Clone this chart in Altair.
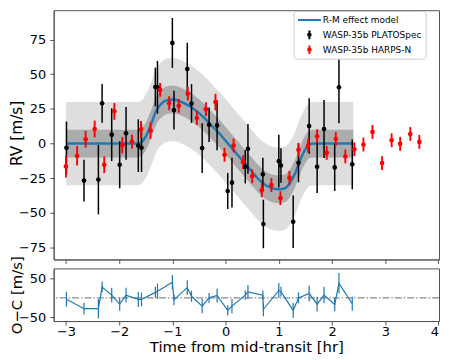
import altair as alt
import pandas as pd

# ---------------- data ----------------
# WASP-35b PLATOSpec (black)
plato_t = [-2.99, -2.66, -2.39, -2.32, -2.14, -1.99, -1.87, -1.64, -1.58, -1.32, -1.28,
           -1.00, -0.97, -0.72, -0.64, -0.44, -0.31, -0.16, 0.04, 0.12, 0.37, 0.42,
           0.70, 0.71, 1.00, 1.04, 1.27, 1.37, 1.57, 1.72, 1.85, 2.05, 2.13, 2.38]
plato_rv = [-3.1, -26.7, -26.0, 29.0, 6.4, -15.3, 7.4, -1.5, -3.1, 40.8, 40.6,
            72.6, 24.1, 53.7, 28.9, -3.3, 13.6, 13.1, -34.2, -28.2, -16.7, -3.8,
            -22.2, -58.0, -12.7, -15.8, -56.4, -13.9, 12.7, -16.7, 10.5, -17.2, 40.6, -15.0]
plato_err = [19, 15, 25, 14, 19, 17, 19, 19, 17.5, 14, 19,
             18, 14, 19, 14, 18, 12.5, 18, 13, 18, 12, 18,
             12, 17.5, 19, 12.5, 19, 14, 20, 19, 21, 17, 26, 18]

# WASP-35b HARPS-N (red)
harps_t = [-3.00, -2.79, -2.63, -2.46, -2.28, -2.09, -1.94, -1.76, -1.59, -1.41, -1.23,
           -1.06, -0.88, -0.71, -0.54, -0.37, -0.19, -0.02, 0.15, 0.33, 0.50, 0.68,
           0.86, 1.03, 1.20, 1.37, 1.55, 1.72, 1.90, 2.07, 2.25, 2.42, 2.59, 2.76,
           2.94, 3.12, 3.28, 3.47, 3.64]
harps_rv = [-16.5, -8.8, 3.1, 10.5, -15.3, 23.2, -1.2, 1.4, 10.3, 9.3, 38.7,
            29.1, 27.2, 36.1, 18.4, 24.8, 29.9, -8.1, -1.4, -13.4, -23.6, -33.7,
            -29.9, -39.4, -24.8, -4.5, -1.5, 5.3, -6.7, 3.3, -9.3, -4.1, -0.7, 8.4,
            -14.1, 2.4, -0.2, 6.9, 1.2]
harps_err = [8, 7, 6, 6, 6, 6, 6, 5, 6, 6, 5,
             5, 5, 5, 5, 5, 6, 5, 5, 5, 5, 5,
             5, 5, 5, 5, 5, 5, 5, 5, 5, 5, 5, 5,
             5, 5, 5, 5, 5]

# R-M effect model curve (read at sample times)
model_t = [-3.0, -1.65, -1.58, -1.5, -1.4, -1.3, -1.2, -1.1, -1.0, -0.9, -0.8, -0.7,
           -0.6, -0.5, -0.4, -0.3, -0.2, -0.1, 0.0, 0.1, 0.2, 0.3, 0.4, 0.5, 0.6,
           0.7, 0.8, 0.9, 1.0, 1.1, 1.2, 1.3, 1.4, 1.5, 1.58, 1.65, 2.4]
model_rv = [0, 0, 1, 5, 14, 24, 29, 31.3, 31.8, 31.2, 29.5, 27.5,
            25, 22, 18.5, 14.5, 10.5, 6.5, 2, -2.5, -7, -11.5, -16, -20.5, -25,
            -28.5, -31, -32.5, -33, -32.5, -29, -22, -12, -4, -0.5, 0, 0]
band_inner = 10   # half-width of dark band [m/s]
band_outer = 30   # half-width of light band [m/s]

# O-C residuals of PLATOSpec
oc_rv = [-3.5, -27.6, -27.6, 27.6, 7, -16, 7, -4, -4, 14, 17,
         40, -5, 26, 4, -21, 0, 6, -32, -21, 7, 15,
         7, -29, 19, 16, -32, 0, 11, -16, 7, -17, 37, -15]
zero_line = [0]

x_ticks = [-3, -2, -1, 0, 1, 2, 3, 4]
rv_ticks = [-75, -50, -25, 0, 25, 50, 75]
oc_ticks = [-50, 0, 50]

series_names = ["R-M effect model", "WASP-35b PLATOSpec", "WASP-35b HARPS-N"]
series_stroke = ["#1f77b4", "black", "red"]
series_fill = ["transparent", "black", "red"]

# ---------------- tables ----------------
model_df = pd.DataFrame({"t": model_t, "rv": model_rv})
model_df["lo1"] = model_df["rv"] - band_inner
model_df["hi1"] = model_df["rv"] + band_inner
model_df["lo2"] = model_df["rv"] - band_outer
model_df["hi2"] = model_df["rv"] + band_outer

plato_df = pd.DataFrame({"t": plato_t, "rv": plato_rv, "err": plato_err})
plato_df["lo"] = plato_df["rv"] - plato_df["err"]
plato_df["hi"] = plato_df["rv"] + plato_df["err"]
plato_df["series"] = series_names[1]

harps_df = pd.DataFrame({"t": harps_t, "rv": harps_rv, "err": harps_err})
harps_df["lo"] = harps_df["rv"] - harps_df["err"]
harps_df["hi"] = harps_df["rv"] + harps_df["err"]
harps_df["series"] = series_names[2]

points_df = pd.concat([plato_df, harps_df], ignore_index=True)
legend_df = pd.DataFrame({"series": series_names})

oc_df = pd.DataFrame({"t": plato_t, "oc": oc_rv, "err": plato_err})
oc_df["lo"] = oc_df["oc"] - oc_df["err"]
oc_df["hi"] = oc_df["oc"] + oc_df["err"]
oc_df["i"] = range(len(oc_df))

zero_df = pd.DataFrame({"z": zero_line})

# ---------------- scales / axes ----------------
FONT = "DejaVu Sans"
W = 388
H_TOP = 251
H_BOT = 53
xscale = alt.Scale(domain=[-3.23, 4.01], nice=False, zero=False)
x_top = alt.X("t:Q", scale=xscale,
              axis=alt.Axis(values=x_ticks, labels=False, title=None, grid=False))
x_bot_axis = alt.Axis(values=x_ticks, title="Time from mid-transit [hr]", grid=False,
                      format="d", labelFontSize=13, labelPadding=0.5, labelOverlap=False,
                      titleFontSize=15, titlePadding=1.5, titleFontWeight="normal")

y_top_scale = alt.Scale(domain=[-83.6, 96.2], nice=False, zero=False)
y_top_axis = alt.Axis(values=rv_ticks, title="RV [m/s]", grid=False, labelOverlap=False,
                      minExtent=25, maxExtent=25, titlePadding=4.2,
                      titleFontSize=15.5, titleY=123.5, titleFontWeight="normal")

# legend symbols: a line for the model, a dot with an error bar for the data
pt_path = ("M-0.11,0A0.11,0.11 0 1,1 0.11,0A0.11,0.11 0 1,1 -0.11,0Z "
           "M0,-0.38L0,0.38")
series_shape = ["M-1,0L1,0", pt_path, pt_path]
legend = alt.Legend(
    title=None, orient="none", legendX=241.5, legendY=0.8,
    fillColor="white", strokeColor="#cccccc", cornerRadius=3, padding=3.5,
    labelFont=FONT, labelFontSize=9, labelColor="black", labelOffset=1,
    symbolSize=529, symbolStrokeWidth=2.0, symbolOpacity=1,
    clipHeight=11, rowPadding=4,
)
dom = dict(domain=series_names)

base_model = alt.Chart(model_df)
light = base_model.mark_area(color="#dedede", opacity=1, interpolate="monotone").encode(
    x=x_top, y=alt.Y("lo2:Q", scale=y_top_scale, axis=y_top_axis), y2="hi2:Q")
dark = base_model.mark_area(color="#acacac", opacity=1, interpolate="monotone").encode(
    x="t:Q", y="lo1:Q", y2="hi1:Q")
line = base_model.mark_line(color="#1f77b4", strokeWidth=2.4, interpolate="monotone").encode(
    x="t:Q", y="rv:Q")

plato_bars = alt.Chart(plato_df).mark_rule(color="black", strokeWidth=1.5).encode(
    x="t:Q", y="lo:Q", y2="hi:Q")
harps_bars = alt.Chart(harps_df).mark_rule(color="red", strokeWidth=1.9).encode(
    x="t:Q", y="lo:Q", y2="hi:Q")
pts = alt.Chart(points_df).mark_circle(size=22, opacity=1).encode(
    x="t:Q", y="rv:Q",
    color=alt.Color("series:N", scale=alt.Scale(domain=series_names[1:],
                                                range=["black", "red"]), legend=None))

# legend carrier (invisible marks placed inside the plot; only their legend is shown)
leg = alt.Chart(legend_df).mark_point(opacity=0).encode(
    x=alt.value(W / 2), y=alt.value(H_TOP / 2),
    stroke=alt.Stroke("series:N", scale=alt.Scale(range=series_stroke, **dom), legend=legend),
    fill=alt.Fill("series:N", scale=alt.Scale(range=series_fill, **dom), legend=legend),
    shape=alt.Shape("series:N", scale=alt.Scale(range=series_shape, **dom), legend=legend),
)

top = alt.layer(light, dark, line, plato_bars, harps_bars, pts, leg).resolve_scale(
    color="independent").properties(width=W, height=H_TOP)

y_bot_scale = alt.Scale(domain=[-59, 75], nice=False, zero=False)
y_bot_axis = alt.Axis(values=oc_ticks, title="O\u2212C [m/s]", grid=False, labelOverlap=False,
                      minExtent=25, maxExtent=25, titlePadding=4.7, titleFontSize=15,
                      titleFontWeight="normal")

zero = alt.Chart(zero_df).mark_rule(color="#8c8c8c", strokeWidth=1.2,
                                    strokeDash=[7, 2, 1.5, 2]).encode(
    y=alt.Y("z:Q", scale=y_bot_scale, axis=y_bot_axis))
oc_bars = alt.Chart(oc_df).mark_rule(color="#1f77b4", strokeWidth=1.2).encode(
    x=alt.X("t:Q", scale=xscale, axis=x_bot_axis), y="lo:Q", y2="hi:Q")
oc_line = alt.Chart(oc_df).mark_line(color="#1f77b4", strokeWidth=1.2).encode(
    x="t:Q", y="oc:Q", order="i:Q")

bottom = alt.layer(zero, oc_bars, oc_line).properties(width=W, height=H_BOT)

chart = alt.vconcat(top, bottom, spacing=9, bounds="flush").properties(
    padding={"left": 0, "top": 0, "right": 0, "bottom": 0}
).configure(background="white").configure_view(
    stroke="#555555", strokeWidth=1
).configure_axis(
    labelFont=FONT, titleFont=FONT, labelFontSize=13, titleFontWeight="normal",
    labelColor="black", titleColor="black", domainColor="#555555", tickColor="#555555",
    tickSize=4, labelPadding=4, domainWidth=1, labelOverlap=False
)

chart.save("out.html", embed_options={"renderer": "svg", "actions": False})
